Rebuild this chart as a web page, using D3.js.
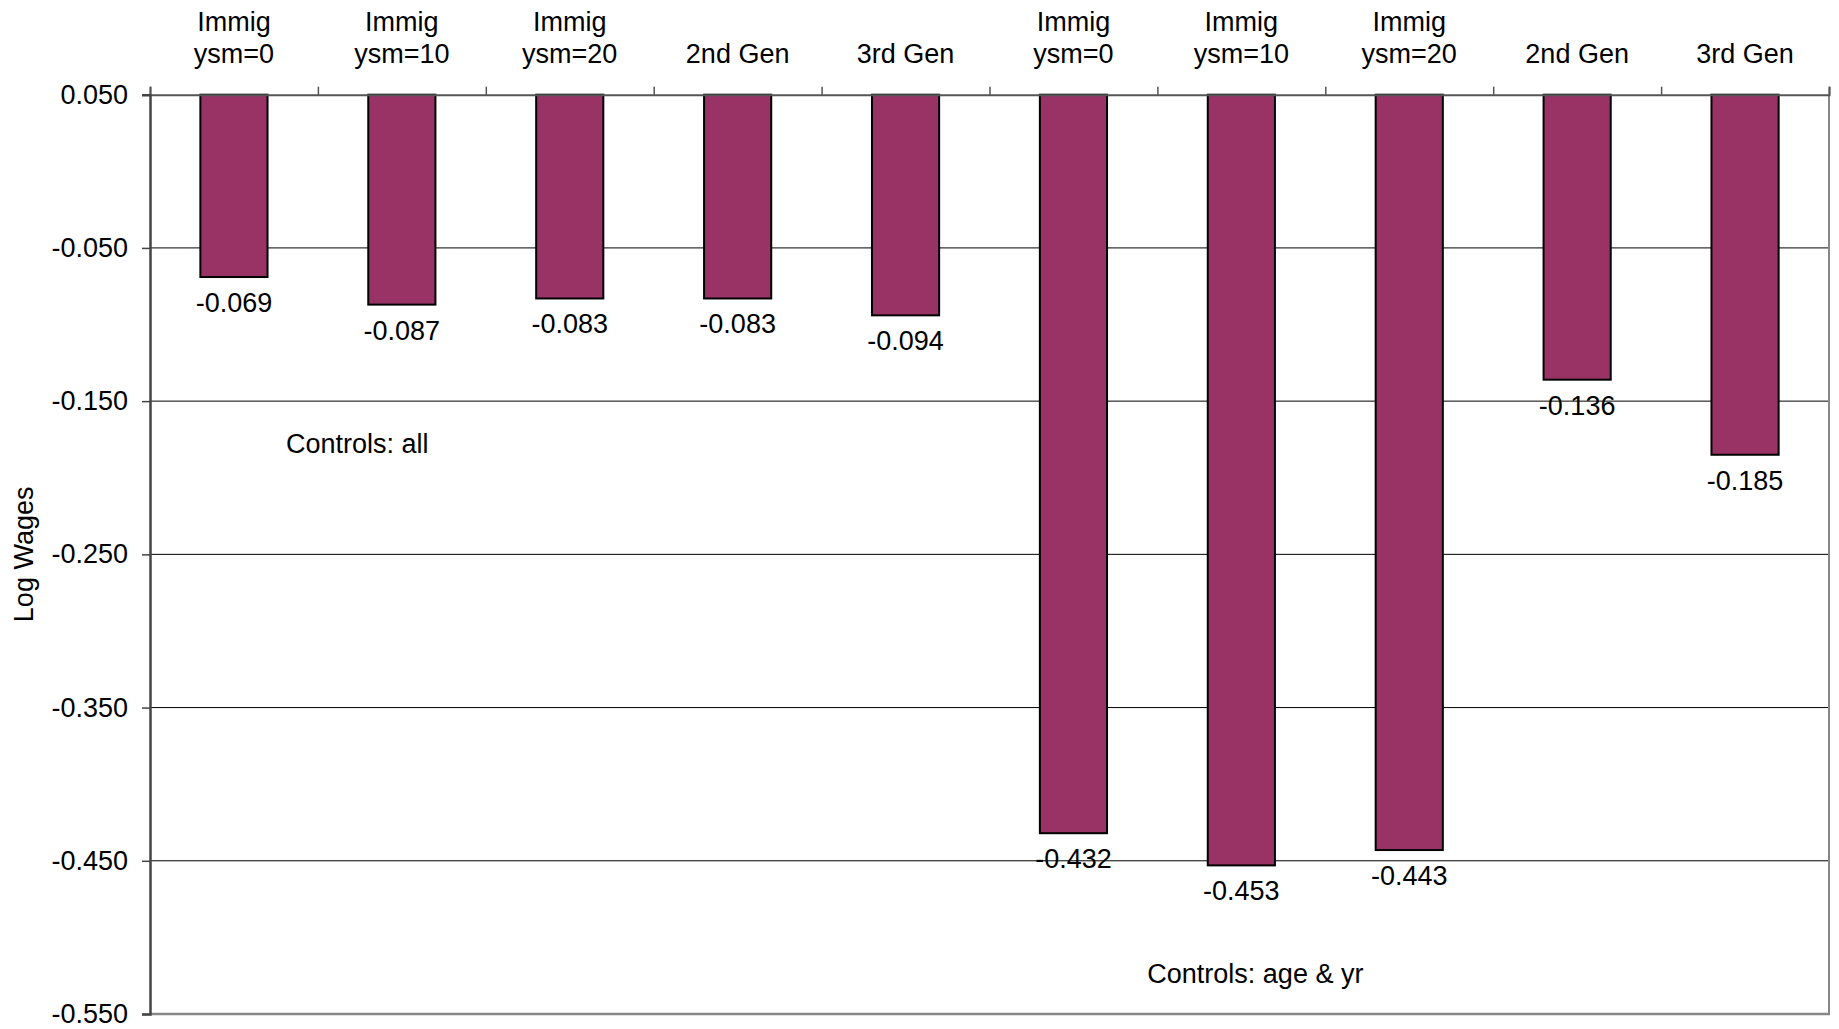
<!DOCTYPE html>
<html>
<head>
<meta charset="utf-8">
<script src="https://cdn.jsdelivr.net/npm/d3@7"></script>
<style>
  html, body { margin: 0; padding: 0; background: #fff; }
  svg { display: block; font-family: "Liberation Sans", Arial, sans-serif; }
</style>
</head>
<body>
<svg id="chart" width="1839" height="1029"></svg>
<script>
// ---- data ----
const categoryLine1 = ["Immig", "Immig", "Immig", "", "", "Immig", "Immig", "Immig", "", ""];
const categoryLine2 = ["ysm=0", "ysm=10", "ysm=20", "2nd Gen", "3rd Gen", "ysm=0", "ysm=10", "ysm=20", "2nd Gen", "3rd Gen"];
const values = [-0.069, -0.087, -0.083, -0.083, -0.094, -0.432, -0.453, -0.443, -0.136, -0.185];
const yTickValues = [0.05, -0.05, -0.15, -0.25, -0.35, -0.45, -0.55];
const yTickLabels = ["0.050", "-0.050", "-0.150", "-0.250", "-0.350", "-0.450", "-0.550"];
const yAxisTitle = "Log Wages";
const annotationTexts = ["Controls: all", "Controls: age & yr"];
const annotationAt = [[0.81, -0.1837], [5.94, -0.5298]]; // [category position, value]

// ---- layout ----
const W = 1839, H = 1029;
const margin = { left: 150, right: 10, top: 94.7, bottom: 15 };
const plotR = 1829, plotB = 1014;
const fontSize = 27;
const svg = d3.select("#chart");

const idx = values.map((d, i) => i);
const x = d3.scaleBand().domain(idx).range([margin.left, plotR]).paddingInner(0.6).paddingOuter(0.3);
const xBound = d3.scaleLinear().domain([0, values.length]).range([margin.left, plotR]);
const y = d3.scaleLinear().domain([0.05, -0.55]).range([margin.top, plotB]);

// gridlines
svg.append("g").selectAll("line").data(yTickValues.slice(1, -1)).join("line")
  .attr("x1", margin.left).attr("x2", plotR)
  .attr("y1", d => y(d)).attr("y2", d => y(d))
  .attr("stroke", "#000").attr("stroke-width", 1);

// right border & bottom border
svg.append("line").attr("x1", plotR).attr("x2", plotR).attr("y1", margin.top).attr("y2", plotB)
  .attr("stroke", "#888").attr("stroke-width", 2);
svg.append("line").attr("x1", margin.left).attr("x2", plotR + 1).attr("y1", plotB).attr("y2", plotB)
  .attr("stroke", "#888").attr("stroke-width", 2.5);

// bars
svg.append("g").selectAll("rect").data(values).join("rect")
  .attr("x", (d, i) => x(i))
  .attr("width", x.bandwidth())
  .attr("y", y(0.05))
  .attr("height", d => y(d) - y(0.05))
  .attr("fill", "#993366")
  .attr("stroke", "#000").attr("stroke-width", 2);

// value labels
svg.append("g").selectAll("text").data(values).join("text")
  .attr("x", (d, i) => x(i) + x.bandwidth() / 2)
  .attr("y", d => y(d) + 35)
  .attr("text-anchor", "middle")
  .attr("font-size", fontSize)
  .attr("fill", "#000")
  .text(d => d.toFixed(3));

// top axis (category boundaries)
const topAxis = d3.axisTop(xBound).tickValues(d3.range(0, values.length + 1)).tickSize(8).tickFormat("");
const gTop = svg.append("g").attr("transform", `translate(0,${margin.top})`).call(topAxis);
gTop.select(".domain").attr("stroke", "#555").attr("stroke-width", 2);
gTop.selectAll(".tick line").attr("stroke", "#555").attr("stroke-width", 1.5);

// category labels
const gCat = svg.append("g");
gCat.selectAll("text.l1").data(categoryLine1).join("text").attr("class", "l1")
  .attr("x", (d, i) => x(i) + x.bandwidth() / 2).attr("y", 31)
  .attr("text-anchor", "middle").attr("font-size", fontSize).text(d => d);
gCat.selectAll("text.l2").data(categoryLine2).join("text").attr("class", "l2")
  .attr("x", (d, i) => x(i) + x.bandwidth() / 2).attr("y", 63)
  .attr("text-anchor", "middle").attr("font-size", fontSize).text(d => d);

// left axis
const leftAxis = d3.axisLeft(y).tickValues(yTickValues).tickSize(8).tickPadding(14)
  .tickFormat((d, i) => yTickLabels[i]);
const gLeft = svg.append("g").attr("transform", `translate(${margin.left},0)`).call(leftAxis);
gLeft.select(".domain").attr("stroke", "#444").attr("stroke-width", 2.5);
gLeft.selectAll(".tick line").attr("stroke", "#444").attr("stroke-width", 1.5);
gLeft.selectAll(".tick text").attr("font-size", fontSize).attr("font-family", "Liberation Sans, Arial, sans-serif")
  .attr("fill", "#000");

// axis title
svg.append("text")
  .attr("transform", `translate(33,${(margin.top + plotB) / 2}) rotate(-90)`)
  .attr("text-anchor", "middle").attr("font-size", fontSize).text(yAxisTitle);

// annotations
const xPos = d3.scaleLinear().domain([0, values.length]).range([margin.left, plotR]);
svg.append("g").selectAll("text").data(annotationTexts).join("text")
  .attr("x", (d, i) => xPos(annotationAt[i][0]))
  .attr("y", (d, i) => y(annotationAt[i][1]))
  .attr("font-size", fontSize).text(d => d);
</script>
</body>
</html>
